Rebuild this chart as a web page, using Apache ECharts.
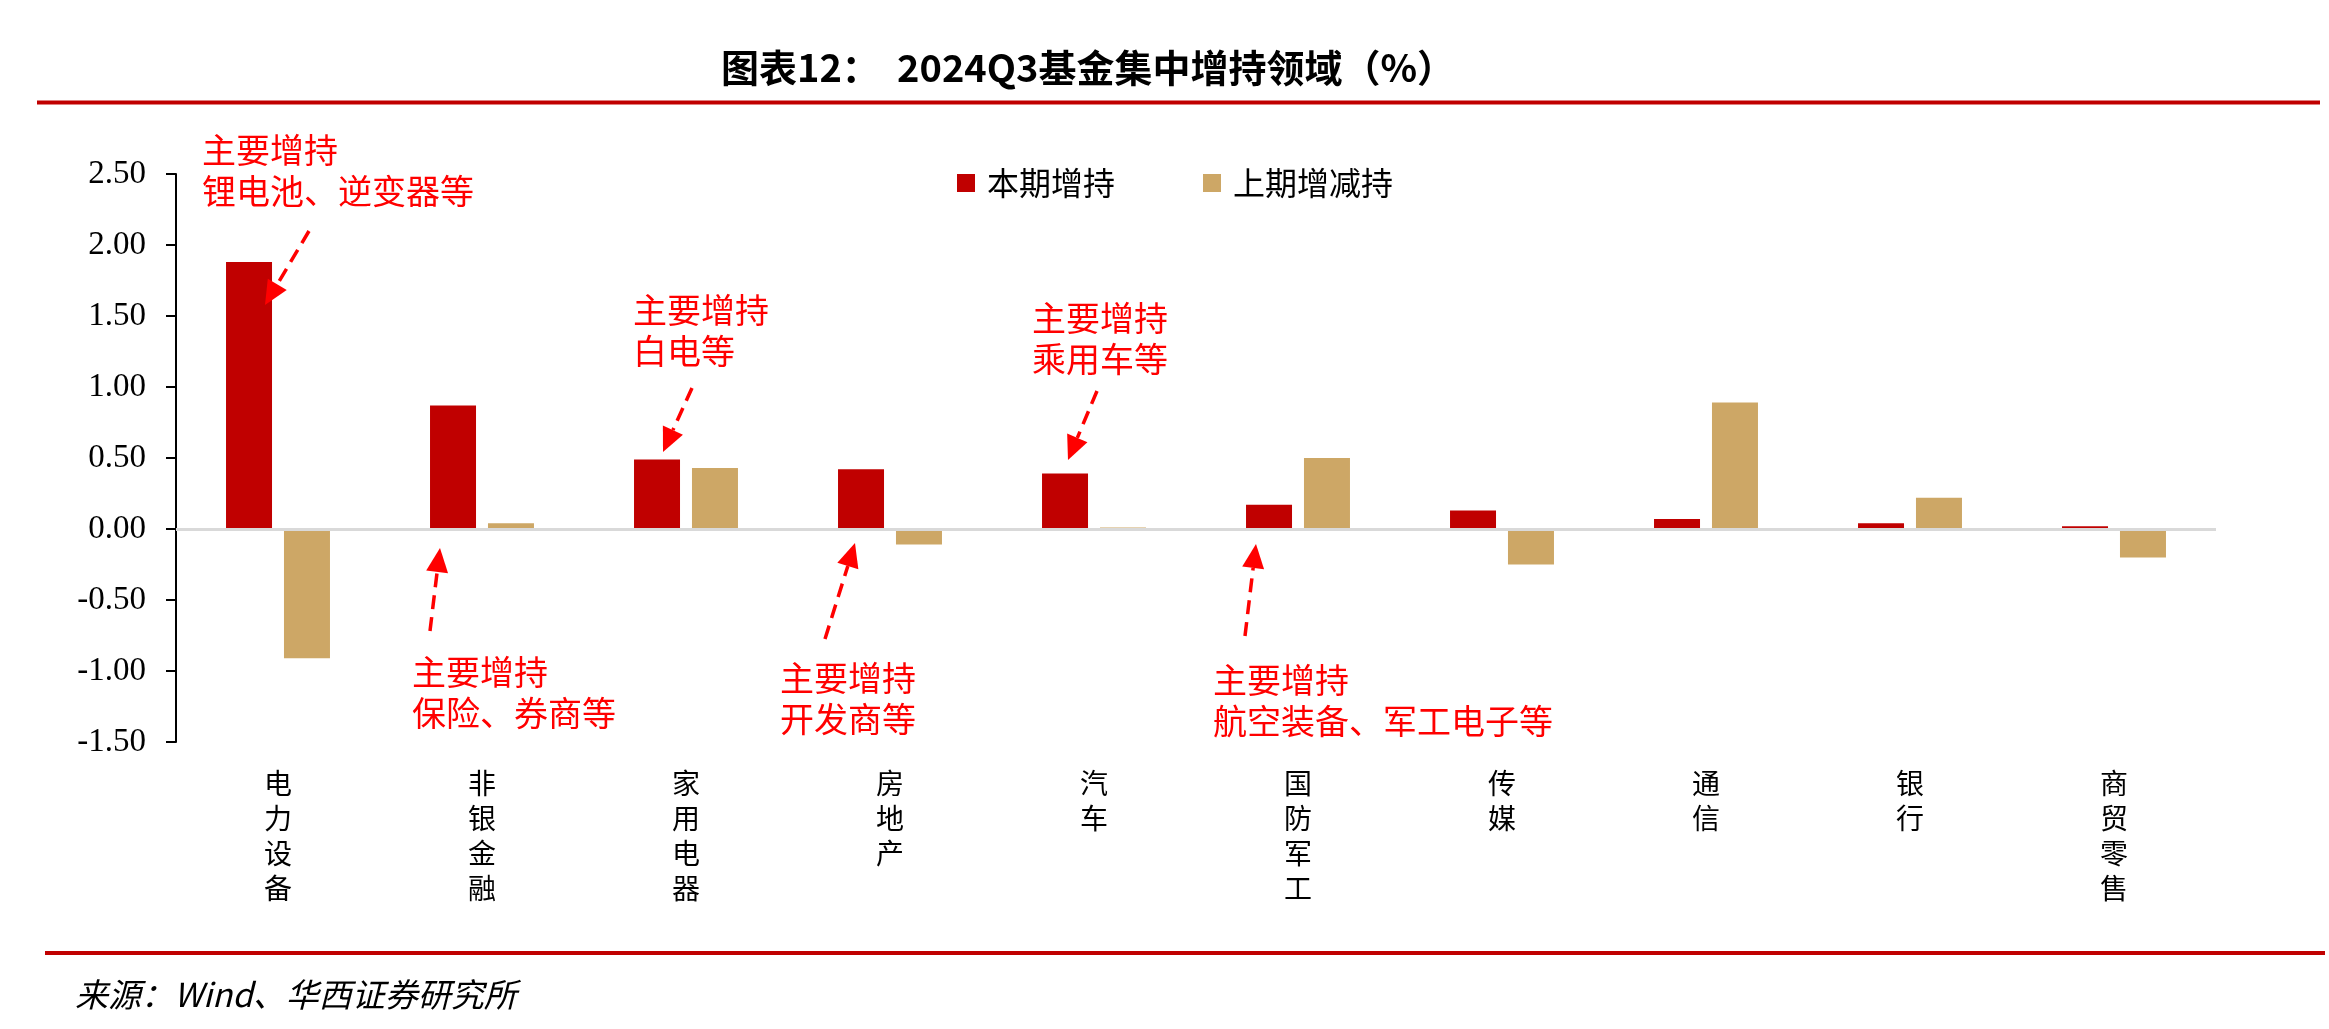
<!DOCTYPE html>
<html>
<head>
<meta charset="utf-8">
<script src="https://cdn.jsdelivr.net/npm/echarts@6/dist/echarts.min.js"></script>
<style>
html,body{margin:0;padding:0;background:#fff;}
#c{width:2329px;height:1029px;}
</style>
</head>
<body>
<div id="c"></div>
<script>
var categories = ['电力设备','非银金融','家用电器','房地产','汽车','国防军工','传媒','通信','银行','商贸零售'];
var currentAdd = [1.88, 0.87, 0.49, 0.42, 0.39, 0.17, 0.13, 0.07, 0.04, 0.02];
var previousChange = [-0.91, 0.04, 0.43, -0.11, 0.01, 0.50, -0.25, 0.89, 0.22, -0.20];
var seriesNames = ['本期增持', '上期增减持'];
var titleText = '图表12：  2024Q3基金集中增持领域（%）';
var sourceText = '来源：Wind、华西证券研究所';
var notes = [
  '主要增持\n锂电池、逆变器等',
  '主要增持\n保险、券商等',
  '主要增持\n白电等',
  '主要增持\n开发商等',
  '主要增持\n乘用车等',
  '主要增持\n航空装备、军工电子等'
];

var CJK = "'Noto Sans CJK SC', 'Noto Sans', sans-serif";
var SERIF = "'Liberation Serif', 'Times New Roman', serif";
var RED = '#C00000', TAN = '#CDA766', NOTE = '#FF0000';

function arrow(x1, y1, x2, y2) {
  var dx = x2 - x1, dy = y2 - y1, L = Math.sqrt(dx*dx + dy*dy);
  var ux = dx / L, uy = dy / L, hl = 24, hw = 11;
  var bx = x2 - ux * hl, by = y2 - uy * hl;
  return [
    {type:'line', z:50, shape:{x1:x1, y1:y1, x2:bx, y2:by},
     style:{stroke:NOTE, lineWidth:3.5, lineDash:[14, 8]}},
    {type:'polygon', z:50, shape:{points:[[x2, y2], [bx - uy*hw, by + ux*hw], [bx + uy*hw, by - ux*hw]]},
     style:{fill:NOTE}}
  ];
}
function note(txt, x, y) {
  return {type:'text', z:50, style:{text:txt, x:x, y:y, fill:NOTE, fontSize:34, fontFamily:CJK,
    lineHeight:41, textAlign:'left', textVerticalAlign:'top'}};
}

var graphics = [
  {type:'rect', shape:{x:37, y:100.5, width:2283, height:4}, style:{fill:RED}},
  {type:'rect', shape:{x:45, y:951, width:2280, height:4}, style:{fill:RED}},
  {type:'text', style:{text:titleText, x:1088, y:68, fill:'#000', fontSize:38, fontWeight:'bold',
     fontFamily:CJK, textAlign:'center', textVerticalAlign:'middle'}},
  {type:'text', style:{text:sourceText, x:75, y:994, fill:'#000', fontSize:33, fontStyle:'italic',
     fontFamily:CJK, textAlign:'left', textVerticalAlign:'middle'}},
  note(notes[0], 202, 130),
  note(notes[1], 412, 652),
  note(notes[2], 633, 290),
  note(notes[3], 780, 658),
  note(notes[4], 1032, 298),
  note(notes[5], 1213, 660)
];
graphics = graphics
  .concat(arrow(309, 231, 265, 305))
  .concat(arrow(430, 631, 440, 548))
  .concat(arrow(692, 388, 663, 452))
  .concat(arrow(825, 639, 855, 543))
  .concat(arrow(1097, 391, 1068, 460))
  .concat(arrow(1245, 636, 1256, 544));

var chart = echarts.init(document.getElementById('c'));
chart.setOption({
  animation: false,
  backgroundColor: '#fff',
  grid: {left:176, right:113, top:174, bottom:287, containLabel:false},
  legend: {
    data: seriesNames, top: 162, left: 952, itemWidth: 18, itemHeight: 18, itemGap: 88,
    icon: 'rect',
    textStyle: {fontSize: 32, fontFamily: CJK, color: '#000', padding: [0, 0, 0, 7]}
  },
  xAxis: {
    type: 'category', data: categories, position: 'bottom',
    axisLine: {show: false, onZero: false}, axisTick: {show: false},
    axisLabel: {
      interval: 0, margin: 24, fontSize: 28, lineHeight: 35, fontFamily: CJK, color: '#000',
      formatter: function (v) { return v.split('').join('\n'); }
    }
  },
  yAxis: {
    type: 'value', min: -1.5, max: 2.5, interval: 0.5,
    axisLine: {show: true, lineStyle: {color: '#000', width: 2}},
    axisTick: {show: true, inside: false, length: 10, lineStyle: {color: '#000', width: 2}},
    splitLine: {show: false},
    axisLabel: {fontSize: 33, fontFamily: SERIF, color: '#000', margin: 30,
      formatter: function (v) { return v.toFixed(2); }}
  },
  series: [
    {name: seriesNames[0], type: 'bar', data: currentAdd, barWidth: 46, barGap: '26%',
     itemStyle: {color: RED},
     markLine: {silent: true, symbol: ['none', 'none'], label: {show: false}, z: 10,
       lineStyle: {color: '#d9d9d9', width: 3, type: 'solid'}, data: [{yAxis: 0}]}},
    {name: seriesNames[1], type: 'bar', data: previousChange, barWidth: 46,
     itemStyle: {color: TAN}}
  ],
  graphic: graphics
});
</script>
</body>
</html>
